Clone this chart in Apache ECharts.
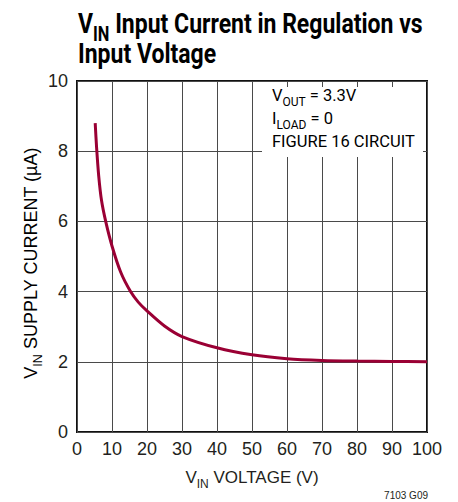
<!DOCTYPE html>
<html>
<head>
<meta charset="utf-8">
<script src="https://cdn.jsdelivr.net/npm/echarts@6/dist/echarts.min.js"></script>
<style>
  html, body { margin: 0; padding: 0; background: #fff; }
  #chart { width: 458px; height: 502px; }
</style>
</head>
<body>
<div id="chart"></div>
<script>
// VIN input current vs input voltage
const vinVolts        = [5.2, 5.6, 6.2, 7.0, 8.2, 10, 12.5, 15.3, 17.5, 20, 25, 30, 40, 50, 60, 70, 80, 90, 100];
const supplyMicroAmps = [8.8, 8.1, 7.3, 6.6, 6.0, 5.3, 4.55, 4.0, 3.7, 3.45, 3.02, 2.72, 2.4, 2.2, 2.09, 2.04, 2.02, 2.01, 2.0];

const FONT = '"Liberation Sans", Arial, sans-serif';
const TITLE_FONT = 'Roboto, "Liberation Sans", sans-serif';
const INK = '#231f20';
const CURVE = '#9a0034';

// title is a condensed bold face; squeeze a normal bold to the same width
const measure = (font, txt) => {
  const c = document.createElement('canvas').getContext('2d');
  c.font = font;
  return c.measureText(txt).width;
};
const titleW = measure('bold 28px ' + TITLE_FONT, 'V') +
               measure('bold 20px ' + TITLE_FONT, 'IN') +
               measure('bold 28px ' + TITLE_FONT, ' Input Current in Regulation vs');
const titleScale = 345 / titleW;

const chart = echarts.init(document.getElementById('chart'), null, { renderer: 'svg' });

// rich-text helpers for the subscripts
const richBase = (size, sub, weight, family, lh) => ({
  m: { fontSize: size, fontFamily: family, fontWeight: weight, color: INK, verticalAlign: 'bottom',
       lineHeight: lh, padding: [0, 0, Math.round(size * 0.25), 0] },
  s: { fontSize: sub, fontFamily: family, fontWeight: weight, color: INK, verticalAlign: 'bottom' }
});

chart.setOption({
  animation: false,
  grid: { left: 77, top: 81, width: 350, height: 351, show: true, borderColor: '#111', borderWidth: 2, containLabel: false },
  xAxis: {
    type: 'value', min: 0, max: 100, interval: 10,
    axisLine: { show: false }, axisTick: { show: false },
    axisLabel: { fontFamily: FONT, fontSize: 18, color: INK, margin: 8 },
    splitLine: { lineStyle: { color: '#4a4a4a', width: 1 } },
    name: '{m|V}{s|IN}{m| VOLTAGE (V)}', nameLocation: 'middle', nameGap: 37,
    nameTextStyle: { rich: richBase(17, 12, 'normal', FONT) }
  },
  yAxis: {
    type: 'value', min: 0, max: 10, interval: 2,
    axisLine: { show: false }, axisTick: { show: false },
    axisLabel: { fontFamily: FONT, fontSize: 18, color: INK, margin: 9 },
    splitLine: { lineStyle: { color: '#4a4a4a', width: 1 } }
  },
  series: [{
    type: 'line',
    data: vinVolts.map((v, i) => [v, supplyMicroAmps[i]]),
    smooth: 0.3,
    showSymbol: false,
    lineStyle: { color: CURVE, width: 3 },
    z: 5
  }],
  graphic: [
    {
      type: 'text', x: 78, y: 14, scaleX: titleScale,
      style: {
        text: '{m|V}{s|IN}{m| Input Current in Regulation vs}\n{m|Input Voltage}',
        rich: richBase(28, 20, 'bold', TITLE_FONT, 30)
      }
    },
    {
      type: 'text', x: 33, y: 263, rotation: Math.PI / 2,
      style: {
        text: '{m|V}{s|IN}{m| SUPPLY CURRENT (µA)}',
        align: 'center', verticalAlign: 'middle',
        rich: richBase(18, 12.5, 'normal', FONT)
      }
    },
    {
      type: 'rect', z: 10,
      shape: { x: 262, y: 87, width: 161, height: 70 },
      style: { fill: '#fff' }
    },
    {
      type: 'text', z: 11, x: 272, y: 85,
      style: {
        text: '{m|V}{s|OUT}{m| = 3.3V}\n{m|I}{s|LOAD}{m| = 0}\n{m|FIGURE 16 CIRCUIT}',
        rich: richBase(16.5, 12, 'normal', 'Roboto, sans-serif', 23)
      }
    },
    {
      type: 'text', right: 30, bottom: 2,
      style: { text: '7103 G09', font: '10px ' + FONT, fill: INK }
    }
  ]
});
</script>
</body>
</html>
